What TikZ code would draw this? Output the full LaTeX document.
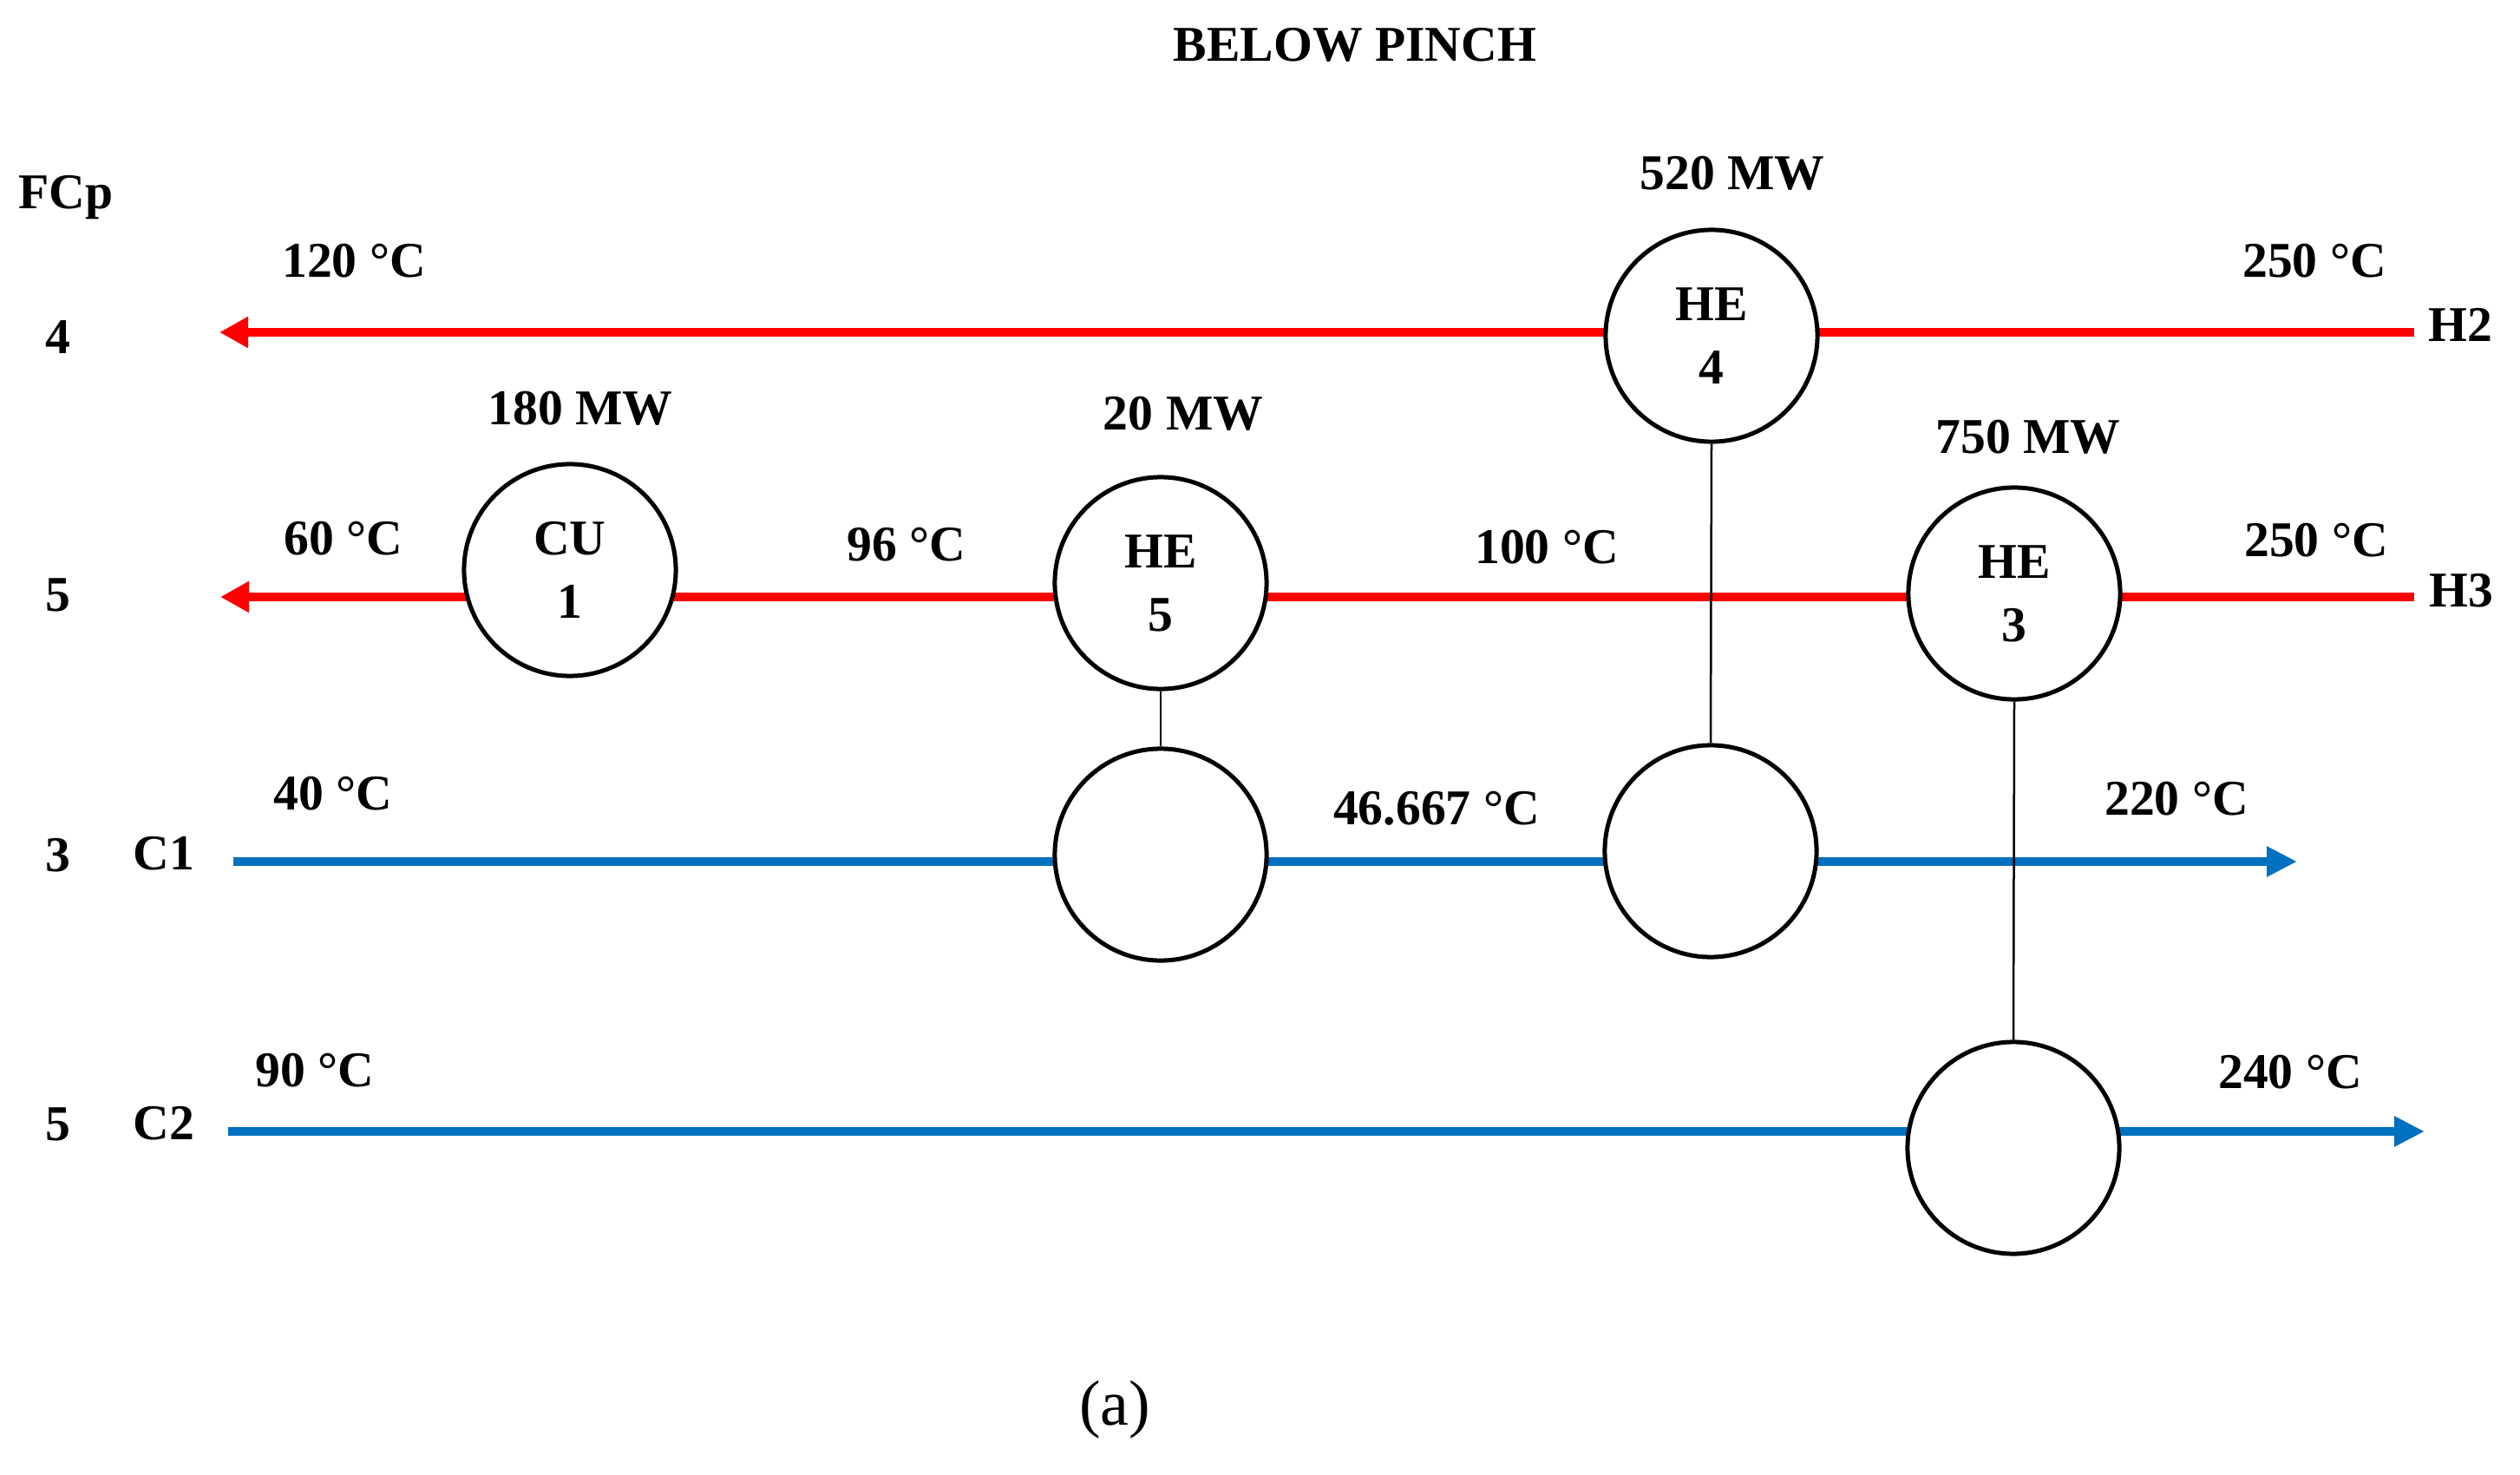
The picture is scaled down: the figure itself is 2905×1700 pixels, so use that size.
\documentclass[tikz,border=0pt]{standalone}
\usepackage{fontspec}
\setmainfont{Liberation Serif}
\usetikzlibrary{arrows.meta}
\definecolor{hotred}{RGB}{255,0,0}
\definecolor{coldblue}{RGB}{0,112,192}
\begin{document}
\begin{tikzpicture}[x=0.01cm,y=-0.01cm,
  lbl/.style={inner sep=0pt, font=\fontsize{16.4}{19.7}\selectfont\bfseries},
  captext/.style={inner sep=0pt, font=\fontsize{21}{25}\selectfont},
  hot/.style={draw=hotred, line width=0.1cm, -{Triangle[length=0.33cm,width=0.34cm]}},
  cold/.style={draw=coldblue, line width=0.1cm, -{Triangle[length=0.35cm,width=0.33cm]}},
  hx/.style={circle, draw=black, line width=0.05cm, fill=white, minimum size=2.44cm,
    inner sep=0pt, align=center, font=\fontsize{16.4}{20.7}\selectfont\bfseries},
  tie/.style={draw=black, line width=0.025cm}]
\useasboundingbox (0,0) rectangle (2905,1700);

% stream end points
\coordinate (h2r) at (2783,383);
\coordinate (h2l) at (253,383);
\coordinate (h3r) at (2783,688);
\coordinate (h3l) at (254,688);
\coordinate (c1l) at (269,993);
\coordinate (c1r) at (2648,993);
\coordinate (c2l) at (263,1304);
\coordinate (c2r) at (2795,1304);

% streams
\draw[hot] (h2r) -- (h2l);
\draw[hot] (h3r) -- (h3l);
\draw[cold] (c1l) -- (c1r);
\draw[cold] (c2l) -- (c2r);

% exchangers
\node[hx] (he4) at (1973,387) {HE\\4};
\node[hx] (cu1) at (657,657) {CU\\1};
\node[hx] (he5) at (1338,672) {HE\\5};
\node[hx] (he3) at (2322,684) {HE\\3};
\node[hx] (he5c) at (1338,985) {};
\node[hx] (he4c) at (1972,981) {};
\node[hx] (he3c) at (2321,1323) {};

% matches
\draw[tie] (he5.south) -- (he5c.north);
\draw[tie] (he4.south) -- (he4c.north);
\draw[tie] (he3.south) -- (he3c.north);

% titles and labels
\node[lbl] (title) at (1562,52) {BELOW PINCH};
\node[lbl] (fcp) at (76,228) {FCp};
\node[lbl] (f4) at (67,389) {4};
\node[lbl] (f5a) at (67,686) {5};
\node[lbl] (f3) at (67,986) {3};
\node[lbl] (f5b) at (67,1296) {5};
\node[lbl] (nh2) at (2836,374) {H2};
\node[lbl] (nh3) at (2837,681) {H3};
\node[lbl] (nc1) at (189,984) {C1};
\node[lbl] (nc2) at (189,1295) {C2};

\node[lbl] (t120) at (408,301) {120 °C};
\node[lbl] (t250a) at (2668,301) {250 °C};
\node[lbl] (q520) at (1997,200) {520 MW};
\node[lbl] (q180) at (669,471) {180 MW};
\node[lbl] (q20) at (1364,477) {20 MW};
\node[lbl] (q750) at (2338,504) {750 MW};
\node[lbl] (t60) at (396,621) {60 °C};
\node[lbl] (t96) at (1045,628) {96 °C};
\node[lbl] (t100) at (1783,631) {100 °C};
\node[lbl] (t250b) at (2670,623) {250 °C};
\node[lbl] (t40) at (384,915) {40 °C};
\node[lbl] (t46) at (1656,932) {46.667 °C};
\node[lbl] (t220) at (2509,921) {220 °C};
\node[lbl] (t90) at (363,1234) {90 °C};
\node[lbl] (t240) at (2640,1236) {240 °C};

\node[captext] (capa) at (1285,1625) {(a)};
\end{tikzpicture}
\end{document}
